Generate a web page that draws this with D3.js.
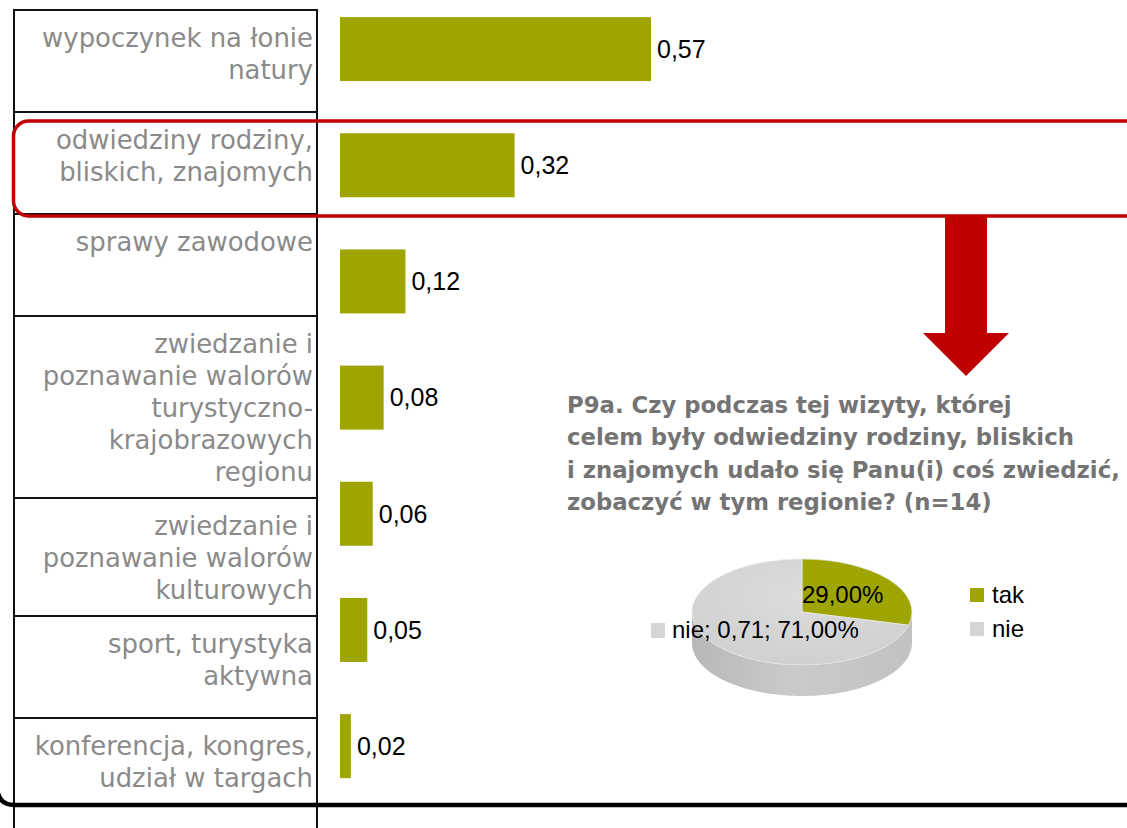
<!DOCTYPE html>
<html>
<head>
<meta charset="utf-8">
<script src="https://cdn.jsdelivr.net/npm/d3@7"></script>
<style>
  html, body { margin: 0; padding: 0; background: #fff; }
  svg { display: block; }
</style>
</head>
<body>
<svg id="chart" width="1127" height="828"></svg>
<script>
// Cele przyjazdu — udział odpowiedzi
const categories = [
  ["wypoczynek na łonie", "natury"],
  ["odwiedziny rodziny,", "bliskich, znajomych"],
  ["sprawy zawodowe"],
  ["zwiedzanie i", "poznawanie walorów", "turystyczno-", "krajobrazowych", "regionu"],
  ["zwiedzanie i", "poznawanie walorów", "kulturowych"],
  ["sport, turystyka", "aktywna"],
  ["konferencja, kongres,", "udział w targach"]
];
const values = [0.57, 0.32, 0.12, 0.08, 0.06, 0.05, 0.02];

// P9a — pytanie dodatkowe (n=14)
const titleLines = [
  "P9a. Czy podczas tej wizyty, której",
  "celem były odwiedziny rodziny, bliskich",
  "i znajomych udało się Panu(i) coś zwiedzić,",
  "zobaczyć w tym regionie? (n=14)"
];
const pieLabels = ["tak", "nie"];
const pieValues = [0.29, 0.71];

const svg = d3.select("#chart");
const pl = d3.formatLocale({ decimal: ",", thousands: " ", grouping: [3], currency: ["", " zł"] });
const fmt2 = pl.format(".2f");
const fmtPct = v => pl.format(".2f")(v * 100) + "%";

const OLIVE = "#9ea500";
const RED = "#c00000";

// ---------- table of category labels ----------
const tableLeft = 14, tableRight = 317, tableTop = 10, lineH = 32;
const rows = [];
let rowTop = tableTop;
categories.forEach(lines => {
  const h = Math.max(102, lines.length * lineH + 22);
  rows.push({ lines, top: rowTop, h });
  rowTop += h;
});

const table = svg.append("g");
// fit label font so the longest first-row line spans its cell
const probe = svg.append("text").attr("font-family", "DejaVu Sans").attr("font-size", 20).text(categories[0][0]);
const labelSize = 20 * 271 / probe.node().getComputedTextLength();
probe.remove();

rows.forEach((r, i) => {
  r.lines.forEach((ln, j) => {
    table.append("text")
      .attr("x", 313)
      .attr("y", r.top + 37 + j * lineH)
      .attr("text-anchor", "end")
      .attr("font-family", "DejaVu Sans")
      .attr("font-size", labelSize)
      .attr("fill", "#8a8a8a")
      .text(ln);
  });
  if (i > 0) {
    table.append("line")
      .attr("x1", tableLeft).attr("x2", tableRight)
      .attr("y1", r.top).attr("y2", r.top)
      .attr("stroke", "#111").attr("stroke-width", 2);
  }
});
table.append("line").attr("x1", tableLeft).attr("x2", tableRight)
  .attr("y1", tableTop).attr("y2", tableTop).attr("stroke", "#111").attr("stroke-width", 2);
[tableLeft, tableRight].forEach(xx => {
  table.append("line").attr("x1", xx).attr("x2", xx)
    .attr("y1", tableTop - 1).attr("y2", 828)
    .attr("stroke", "#111").attr("stroke-width", 2);
});

// ---------- bars ----------
const x = d3.scaleLinear().domain([0, 1]).range([340, 340 + 545.6]);
const y = d3.scaleBand()
  .domain(d3.range(values.length))
  .range([-9, 804.2])
  .paddingInner(0.449)
  .paddingOuter(0.2245);

const bars = svg.append("g");
bars.selectAll("rect").data(values).join("rect")
  .attr("x", x(0))
  .attr("y", (d, i) => y(i))
  .attr("width", d => x(d) - x(0))
  .attr("height", y.bandwidth())
  .attr("fill", OLIVE);

bars.selectAll("text").data(values).join("text")
  .attr("x", d => x(d) + 6)
  .attr("y", (d, i) => y(i) + y.bandwidth() / 2)
  .attr("dy", "0.35em")
  .attr("font-family", "Liberation Sans, Arial, sans-serif")
  .attr("font-size", 25)
  .attr("fill", "#000")
  .text(d => fmt2(d));

// ---------- highlight frame + arrow ----------
const hl = svg.append("g");
hl.append("rect")
  .attr("x", 13.5).attr("y", 121)
  .attr("width", 1160).attr("height", 95)
  .attr("rx", 15).attr("ry", 15)
  .attr("fill", "none")
  .attr("stroke", RED).attr("stroke-width", 3.5);

hl.append("path")
  .attr("d", d3.line()([[945, 217], [987, 217], [987, 333], [1009, 333], [966, 376], [923, 333], [945, 333]]) + "Z")
  .attr("fill", RED);

// ---------- title of the inset ----------
const tProbe = svg.append("text").attr("font-family", "DejaVu Sans").attr("font-weight", "bold")
  .attr("font-size", 20).text(titleLines[2]);
const titleSize = 20 * 553 / tProbe.node().getComputedTextLength();
tProbe.remove();
svg.append("g").selectAll("text").data(titleLines).join("text")
  .attr("x", 567)
  .attr("y", (d, i) => 413 + i * 32.3)
  .attr("font-family", "DejaVu Sans")
  .attr("font-weight", "bold")
  .attr("font-size", titleSize)
  .attr("fill", "#747474")
  .text(d => d);

// ---------- 3D pie ----------
const cx = 802, cy = 612, rx = 110, ry = 53, depth = 31;
const pieColors = d3.scaleOrdinal().domain(pieLabels).range([OLIVE, "#d5d5d5"]);
const arcsData = d3.pie().sort(null).value(d => d)(pieValues);

const defs = svg.append("defs");
const sg = defs.append("linearGradient").attr("id", "sideGrad")
  .attr("gradientUnits", "userSpaceOnUse")
  .attr("x1", cx - rx).attr("x2", cx + rx).attr("y1", 0).attr("y2", 0);
sg.append("stop").attr("offset", "0%").attr("stop-color", "#b8b8b8");
sg.append("stop").attr("offset", "45%").attr("stop-color", "#cacaca");
sg.append("stop").attr("offset", "100%").attr("stop-color", "#c2c2c2");
const tg = defs.append("radialGradient").attr("id", "topGrad")
  .attr("cx", "50%").attr("cy", "35%").attr("r", "65%");
tg.append("stop").attr("offset", "0%").attr("stop-color", "#dcdcdc");
tg.append("stop").attr("offset", "100%").attr("stop-color", "#d0d0d0");

const pieG = svg.append("g");
const ex = a => cx + rx * Math.sin(a);
const ey = a => cy - ry * Math.cos(a);

// visible rim of the disc: lower half of the ellipse extruded downwards
function rimPath(a0, a1) {
  const s = Math.max(a0, Math.PI / 2), e = Math.min(a1, 3 * Math.PI / 2);
  if (e <= s) return null;
  const n = 80;
  const topPts = d3.range(n + 1).map(k => { const a = s + (e - s) * k / n; return [ex(a), ey(a)]; });
  const botPts = topPts.slice().reverse().map(p => [p[0], p[1] + depth]);
  return d3.line()(topPts.concat(botPts)) + "Z";
}
pieG.append("path")
  .attr("d", rimPath(0, 2 * Math.PI))
  .attr("fill", "url(#sideGrad)");

const topFace = pieG.append("g").attr("transform", `translate(${cx},${cy}) scale(1,${ry / rx})`);
const arcGen = d3.arc().innerRadius(0).outerRadius(rx);
topFace.selectAll("path").data(arcsData).join("path")
  .attr("d", arcGen)
  .attr("fill", (d, i) => i === 1 ? "url(#topGrad)" : pieColors(pieLabels[i]))
  .attr("stroke", "#e8e8e8")
  .attr("stroke-width", 1);

// slice labels
pieG.append("text")
  .attr("x", cx).attr("y", cy - 9)
  .attr("font-family", "Liberation Sans, Arial, sans-serif")
  .attr("font-size", 24).attr("fill", "#000")
  .text(fmtPct(pieValues[0]));
pieG.append("rect")
  .attr("x", 651).attr("y", 623).attr("width", 14).attr("height", 15)
  .attr("fill", pieColors(pieLabels[1]));
pieG.append("text")
  .attr("x", 672).attr("y", 638)
  .attr("font-family", "Liberation Sans, Arial, sans-serif")
  .attr("font-size", 24).attr("fill", "#000")
  .text(`${pieLabels[1]}; ${fmt2(pieValues[1])}; ${fmtPct(pieValues[1])}`);

// legend
const leg = svg.append("g");
pieLabels.forEach((lab, i) => {
  leg.append("rect").attr("x", 970).attr("y", 588 + i * 34).attr("width", 14).attr("height", 14)
    .attr("fill", pieColors(lab));
  leg.append("text").attr("x", 992).attr("y", 603 + i * 34)
    .attr("font-family", "Liberation Sans, Arial, sans-serif")
    .attr("font-size", 24).attr("fill", "#000").text(lab);
});

// ---------- heavy frame edge at the bottom ----------
svg.append("path")
  .attr("d", "M -3 787 Q -2 805 14 805 L 1140 805")
  .attr("fill", "none")
  .attr("stroke", "#000")
  .attr("stroke-width", 4.5);
</script>
</body>
</html>
